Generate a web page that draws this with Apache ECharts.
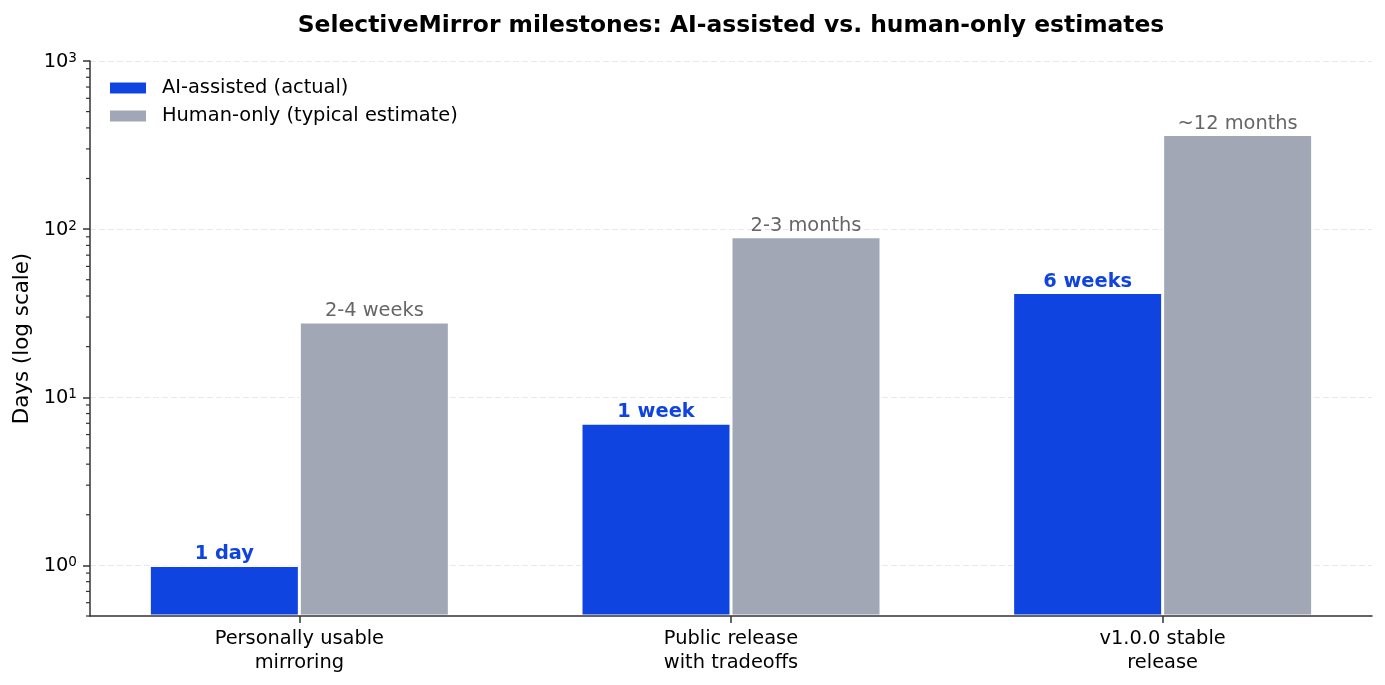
<!DOCTYPE html>
<html lang="en">

<head>
    <meta charset="UTF-8" />
    <title>SelectiveMirror milestones</title>
    <script src="https://cdn.jsdelivr.net/npm/echarts@6/dist/echarts.min.js"></script>
    <style>
        html, body { margin: 0; padding: 0; background: #fff; }
        #chart { width: 1385px; height: 685px; }
    </style>
</head>

<body>
    <div id="chart"></div>

    <script>
        // data
        let milestones = ["Personally usable\nmirroring", "Public release\nwith tradeoffs", "v1.0.0 stable\nrelease"];
        let aiDays = [1, 7, 42];
        let humanDays = [28, 90, 365];
        let aiLabels = ["1 day", "1 week", "6 weeks"];
        let humanLabels = ["2-4 weeks", "2-3 months", "~12 months"];
        // ticks of the log axis
        let majorTicks = [1, 10, 100, 1000];
        let minorTicks = [0.5, 0.6, 0.7, 0.8, 0.9, 2, 3, 4, 5, 6, 7, 8, 9, 20, 30, 40, 50, 60, 70, 80, 90,
            200, 300, 400, 500, 600, 700, 800, 900];

        let positions = milestones.map((m, i) => i);
        let font = "DejaVu Sans";
        let fs = 19.4;
        let blue = "#0f44e0";
        let grey = "#a1a7b4";

        let myChart = echarts.init(document.getElementById("chart"));

        let option = {
            animation: false,
            textStyle: { fontFamily: font },
            title: {
                text: "SelectiveMirror milestones: AI-assisted vs. human-only estimates",
                left: 726,
                top: 9,
                textAlign: "center",
                textStyle: { fontSize: 23.4, fontWeight: "bold", color: "#000", fontFamily: font },
            },
            legend: {
                data: ["AI-assisted (actual)", "Human-only (typical estimate)"],
                orient: "vertical",
                left: 103,
                top: 73,
                itemWidth: 38,
                itemHeight: 13,
                itemGap: 8,
                icon: "rect",
                textStyle: { fontSize: fs, color: "#000", fontFamily: font, lineHeight: 20, padding: [0, 0, 0, 10] },
            },
            grid: { left: 90, right: 13, top: 61, bottom: 69 },
            xAxis: {
                type: "value",
                min: -0.485,
                max: 2.485,
                splitLine: { show: false },
                axisLine: { show: true, onZero: false, lineStyle: { color: "#333", width: 1.5 } },
                axisTick: { show: true, customValues: positions, length: 7, lineStyle: { color: "#333", width: 1.5 } },
                axisLabel: {
                    customValues: positions,
                    formatter: (v) => milestones[Math.round(v)],
                    fontSize: fs,
                    lineHeight: 24,
                    color: "#000",
                    margin: 11,
                    fontFamily: font,
                },
                z: 5,
            },
            yAxis: {
                type: "log",
                logBase: 10,
                min: 0.5,
                max: 1000,
                startValue: 0.5,
                name: "Days (log scale)",
                nameLocation: "middle",
                nameGap: 56,
                nameTextStyle: { fontSize: 21.4, color: "#000", fontFamily: font },
                axisLine: { show: true, onZero: false, lineStyle: { color: "#333", width: 1.5 } },
                axisTick: {
                    show: true,
                    customValues: majorTicks,
                    length: 7,
                    lineStyle: { color: "#333", width: 1.5 },
                },
                axisLabel: {
                    customValues: majorTicks,
                    margin: 13,
                    color: "#000",
                    formatter: function (v) {
                        return "{b|10}{sup|" + Math.round(Math.log10(v)) + "}";
                    },
                    rich: {
                        b: { fontSize: fs, fontFamily: font, color: "#000", lineHeight: 20, verticalAlign: "bottom" },
                        sup: { fontSize: 13.6, fontFamily: font, color: "#000", lineHeight: 14, padding: [0, 0, 9, 0], verticalAlign: "top" },
                    },
                },
                splitLine: { show: false },
                z: 5,
            },
            series: [
                {
                    // dashed grid lines at the decades, behind the bars
                    type: "custom",
                    silent: true,
                    z: 0,
                    data: majorTicks.map((v) => [0, v]),
                    renderItem: function (params, api) {
                        let y = Math.round(api.coord([0, api.value(1)])[1]) + 0.5;
                        let cs = params.coordSys;
                        return {
                            type: "line",
                            shape: { x1: cs.x, y1: y, x2: cs.x + cs.width, y2: y },
                            style: { stroke: "#e8e8e8", lineWidth: 1, lineDash: [6, 3] },
                        };
                    },
                },
                {
                    name: "AI-assisted (actual)",
                    type: "bar",
                    data: aiDays.map((v, i) => [positions[i], v]),
                    barWidth: 150,
                    barGap: "0%",
                    z: 2,
                    itemStyle: { color: blue, borderColor: "#fff", borderWidth: 1.5 },
                    label: {
                        show: true,
                        position: "top",
                        distance: 1.5,
                        formatter: (p) => aiLabels[p.dataIndex],
                        color: blue,
                        fontWeight: "bold",
                        fontSize: fs,
                        fontFamily: font,
                    },
                },
                {
                    name: "Human-only (typical estimate)",
                    type: "bar",
                    data: humanDays.map((v, i) => [positions[i], v]),
                    barWidth: 150,
                    z: 2,
                    itemStyle: { color: grey, borderColor: "#fff", borderWidth: 1.5 },
                    label: {
                        show: true,
                        position: "top",
                        distance: 1.5,
                        formatter: (p) => humanLabels[p.dataIndex],
                        color: "#666",
                        fontSize: fs,
                        fontFamily: font,
                    },
                },
                {
                    // minor ticks drawn on the left spine
                    type: "custom",
                    silent: true,
                    z: 6,
                    data: minorTicks.map((v) => [0, v]),
                    renderItem: function (params, api) {
                        let y = api.coord([0, api.value(1)])[1];
                        let x = params.coordSys.x;
                        return {
                            type: "line",
                            shape: { x1: x - 4, y1: y, x2: x, y2: y },
                            style: { stroke: "#333", lineWidth: 1.2 },
                        };
                    },
                },
            ],
        };

        myChart.setOption(option);
    </script>
</body>

</html>
